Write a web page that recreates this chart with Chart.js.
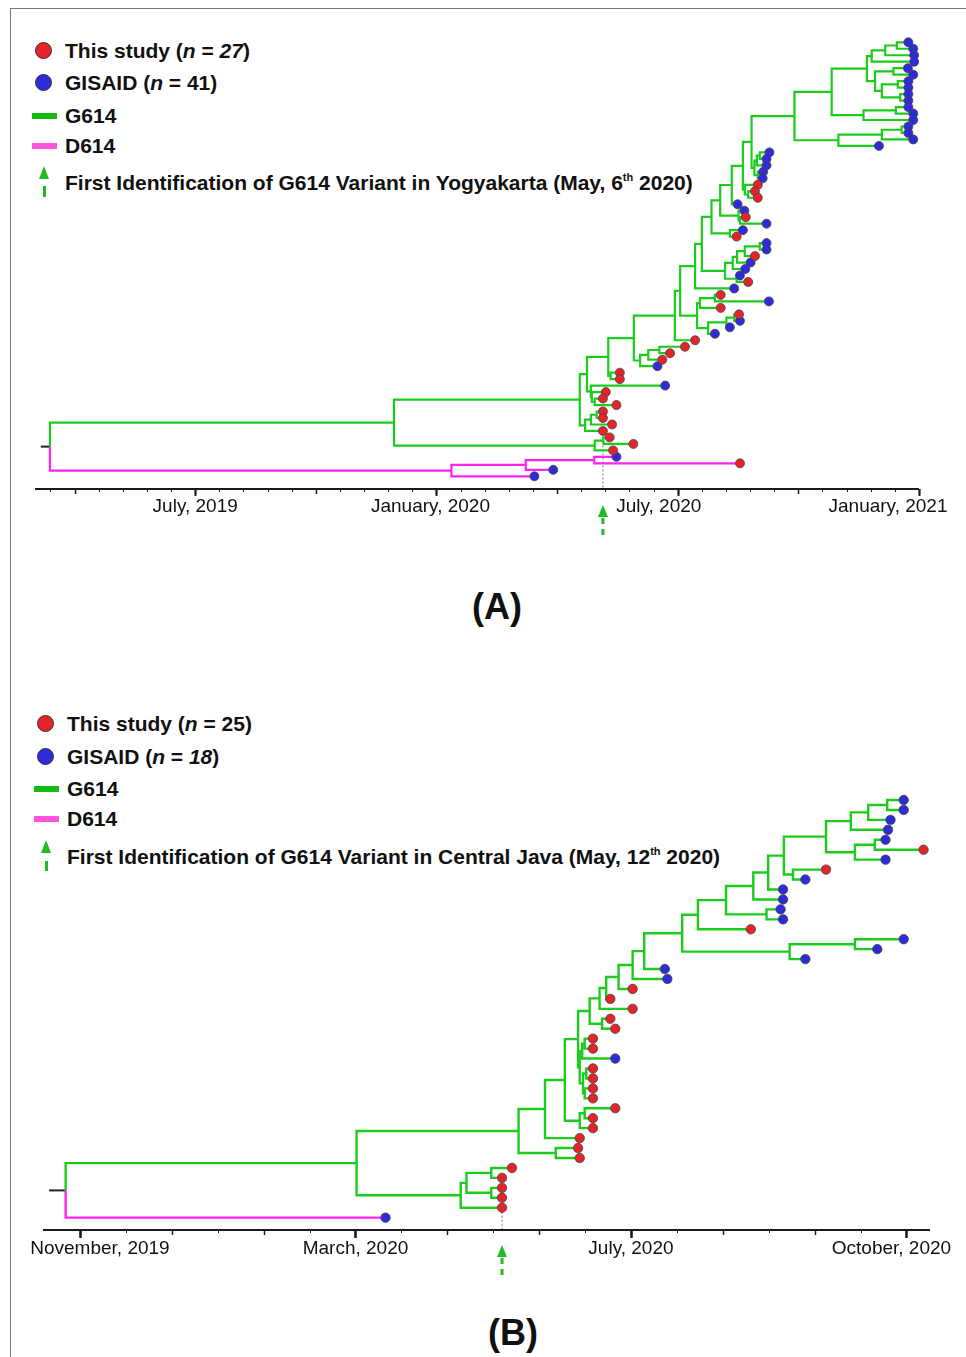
<!DOCTYPE html>
<html>
<head>
<meta charset="utf-8">
<title>G614 / D614 time-scaled trees</title>
<script src="https://cdn.jsdelivr.net/npm/chart.js@4.4.1/dist/chart.umd.min.js"></script>
<style>
  html, body { margin: 0; padding: 0; background: #fff; }
  body { position: relative; width: 966px; height: 1357px; overflow: hidden;
         font-family: "Liberation Sans", Arial, Helvetica, sans-serif; color: #111; }
  .frame { position: absolute; left: 10px; top: 8px; width: 970px; height: 1360px;
           border-left: 1px solid #777; border-top: 1px solid #777; }
  canvas { position: absolute; left: 0; }
  .key { position: absolute; font-weight: bold; font-size: 21px; line-height: 24px; white-space: nowrap; }
  .dot { position: absolute; width: 17px; height: 17px; border-radius: 50%; border: 1px solid #333; box-sizing: border-box; }
  .bar { position: absolute; width: 25px; height: 6px; }
  .tri { position: absolute; width: 0; height: 0; border-left: 5px solid transparent;
         border-right: 5px solid transparent; border-bottom: 13px solid #22bb22; }
  .stem { position: absolute; width: 3px; background: #22bb22; }
  .panel { position: absolute; font-weight: bold; font-size: 36px; line-height: 40px; }
  sup { font-size: 11px; vertical-align: 9px; line-height: 0; }
</style>
</head>
<body>
<div class="frame"></div>

<!-- legend, panel A -->
<div class="dot" style="left:35px;top:42px;background:#e5232b"></div>
<div class="key" style="left:65px;top:39px">This study (<i>n</i> = <i>27</i>)</div>
<div class="dot" style="left:35px;top:74px;background:#2f2bd8"></div>
<div class="key" style="left:65px;top:71px">GISAID (<i>n</i> = 41)</div>
<div class="bar" style="left:32px;top:113px;background:#11bb11"></div>
<div class="key" style="left:65px;top:104px">G614</div>
<div class="bar" style="left:32px;top:143px;background:#ff55dd"></div>
<div class="key" style="left:65px;top:134px">D614</div>
<div class="tri" style="left:39px;top:166px"></div>
<div class="stem" style="left:42.5px;top:186px;height:11px"></div>
<div class="key" style="left:65px;top:171px">First Identification of G614 Variant in Yogyakarta (May, 6<sup>th</sup> 2020)</div>

<!-- legend, panel B -->
<div class="dot" style="left:37px;top:715px;background:#e5232b"></div>
<div class="key" style="left:67px;top:712px">This study (<i>n</i> = 25)</div>
<div class="dot" style="left:37px;top:748px;background:#2f2bd8"></div>
<div class="key" style="left:67px;top:745px">GISAID (<i>n</i> = <i>18</i>)</div>
<div class="bar" style="left:34px;top:786px;background:#11bb11"></div>
<div class="key" style="left:67px;top:777px">G614</div>
<div class="bar" style="left:34px;top:816px;background:#ff55dd"></div>
<div class="key" style="left:67px;top:807px">D614</div>
<div class="tri" style="left:41px;top:840px"></div>
<div class="stem" style="left:44.5px;top:861px;height:10px"></div>
<div class="key" style="left:67px;top:845px">First Identification of G614 Variant in Central Java (May, 12<sup>th</sup> 2020)</div>

<canvas id="treeA" width="966" height="560" style="top:0px"></canvas>
<canvas id="treeB" width="966" height="640" style="top:660px"></canvas>

<div class="panel" style="left:472px;top:587px">(A)</div>
<div class="panel" style="left:488px;top:1313px">(B)</div>

<script>
// ---- Panel A: Yogyakarta. Tips listed top -> bottom, dates in decimal years ----
const tipDateA = [
  2020.978, 2020.988, 2020.990, 2020.990, 2020.977, 2020.988, 2020.978, 2020.978,
  2020.978, 2020.978, 2020.978, 2020.988, 2020.988, 2020.978, 2020.978, 2020.988,
  2020.917, 2020.690, 2020.684, 2020.684, 2020.677, 2020.676, 2020.666, 2020.660,
  2020.666, 2020.624, 2020.638, 2020.641, 2020.684, 2020.635, 2020.622, 2020.684,
  2020.684, 2020.660, 2020.651, 2020.640, 2020.629, 2020.646, 2020.617, 2020.589,
  2020.689, 2020.589, 2020.627, 2020.629, 2020.608, 2020.577, 2020.536, 2020.515,
  2020.484, 2020.468, 2020.458, 2020.380, 2020.380, 2020.474, 2020.351, 2020.345,
  2020.373, 2020.345, 2020.345, 2020.364, 2020.345, 2020.359, 2020.408, 2020.366,
  2020.373, 2020.629, 2020.242, 2020.203
];
// S = this study, G = GISAID
const tipSrcA = [
  'G','G','G','G','G','G','G','G','G','G','G','G','G','G','G','G',
  'G','G','G','G','G','G','S','S','S','G','G','S','G','G','S','G',
  'G','S','G','G','G','S','G','S','G','S','S','G','G','G','S','S',
  'S','S','G','S','S','G','S','S','S','S','S','S','S','S','S','S',
  'G','S','G','G'
];
// internal nodes: [id, date, child, child]  (numbers = tip index)
const nodesA = [
  ['T1', 2020.954, 0, 1], ['T2', 2020.930, 'T1', 2], ['T3', 2020.902, 'T2', 3],
  ['T4', 2020.947, 4, 5], ['T12', 2020.956, 6, 7], ['T13', 2020.961, 8, 9],
  ['T11', 2020.923, 'T12', 'T13'], ['T10', 2020.909, 'T4', 'T11'], ['T9', 2020.892, 'T3', 'T10'],
  ['T14', 2020.952, 10, 11], ['T15', 2020.885, 'T14', 12], ['T16', 2020.819, 'T9', 'T15'],
  ['T17', 2020.964, 13, 14], ['T18', 2020.923, 'T17', 15], ['T19', 2020.833, 'T18', 16],
  ['T20', 2020.742, 'T16', 'T19'],
  ['M1', 2020.670, 17, 18], ['M2', 2020.664, 'M1', 19], ['M3', 2020.666, 20, 21],
  ['M4', 2020.659, 'M2', 'M3'], ['T21', 2020.653, 'T20', 'M4'],
  ['M6', 2020.646, 23, 24], ['M5', 2020.639, 22, 'M6'], ['B2', 2020.635, 'T21', 'M5'],
  ['B3', 2020.612, 'B2', 25], ['M10', 2020.629, 27, 28], ['M9', 2020.626, 26, 'M10'],
  ['B4', 2020.588, 'B3', 'M9'], ['M11', 2020.608, 29, 30], ['B5', 2020.570, 'B4', 'M11'],
  ['M14', 2020.670, 31, 32], ['M15', 2020.639, 'M14', 33], ['M16', 2020.623, 'M15', 34],
  ['M17', 2020.614, 'M16', 35], ['M18', 2020.622, 36, 37], ['M19', 2020.598, 'M17', 'M18'],
  ['B6', 2020.550, 'B5', 'M19'], ['B7', 2020.536, 'B6', 38],
  ['M23', 2020.577, 39, 40], ['M22', 2020.546, 'M23', 41], ['M24', 2020.617, 42, 43],
  ['M25', 2020.601, 'M24', 44], ['M26', 2020.563, 'M25', 45], ['M27', 2020.540, 'M22', 'M26'],
  ['B8', 2020.505, 'B7', 'M27'], ['N675', 2020.494, 'B8', 46],
  ['N659', 2020.462, 47, 48], ['N648', 2020.439, 'N659', 49], ['N640', 2020.422, 'N648', 50],
  ['N636', 2020.409, 'N675', 'N640'], ['N610', 2020.361, 51, 52], ['N608', 2020.356, 'N636', 'N610'],
  ['Nd', 2020.328, 55, 56], ['Nc', 2020.322, 54, 'Nd'], ['Ne', 2020.320, 53, 'Nc'],
  ['N590', 2020.312, 'N608', 'Ne'],
  ['D', 2020.332, 57, 58], ['C', 2020.320, 'D', 59], ['B', 2020.308, 'C', 60],
  ['N579', 2020.297, 'N590', 'B'],
  ['N603', 2020.346, 61, 62], ['N594', 2020.328, 'N603', 63],
  ['N394', 2019.912, 'N579', 'N594'],
  ['P594', 2020.327, 64, 65], ['P525', 2020.185, 'P594', 66], ['P451', 2020.031, 'P525', 67],
  ['root', 2019.199, 'N394', 'P451']
];
const d614CladeA = 'P451';
const rootStubA = 2019.180;
const firstIdA = 2020.345;          // May 6th 2020
const tickValuesA = [2019.5, 2020.0, 2020.5, 2021.0];
const tickLabelsA = ['July, 2019', 'January, 2020', 'July, 2020', 'January, 2021'];

// ---- Panel B: Central Java ----
const tipDateB = [
  2020.830, 2020.830, 2020.814, 2020.811, 2020.808, 2020.854, 2020.808, 2020.736,
  2020.711, 2020.684, 2020.684, 2020.681, 2020.684, 2020.645, 2020.830, 2020.798,
  2020.711, 2020.541, 2020.544, 2020.502, 2020.475, 2020.502, 2020.475, 2020.481,
  2020.454, 2020.454, 2020.481, 2020.454, 2020.454, 2020.454, 2020.454, 2020.481,
  2020.454, 2020.454, 2020.438, 2020.436, 2020.438, 2020.356, 2020.344, 2020.344,
  2020.344, 2020.344, 2020.203
];
const tipSrcB = [
  'G','G','G','G','G','S','G','S','G','G','G','G','G','S','G','G',
  'G','G','G','S','S','S','S','S','S','S','G','S','S','S','S','S',
  'S','S','S','S','S','S','S','S','S','S','G'
];
const nodesB = [
  ['X1', 2020.810, 0, 1], ['X2', 2020.787, 'X1', 2], ['X3', 2020.766, 'X2', 3],
  ['X4', 2020.795, 4, 5], ['X5', 2020.771, 'X4', 6], ['X6', 2020.736, 'X3', 'X5'],
  ['X7', 2020.696, 7, 8], ['X8', 2020.685, 'X6', 'X7'], ['X9', 2020.666, 'X8', 9],
  ['X10', 2020.648, 'X9', 10], ['X11', 2020.664, 11, 12], ['X12', 2020.615, 'X10', 'X11'],
  ['X13', 2020.581, 'X12', 13], ['X14', 2020.771, 14, 15], ['X15', 2020.692, 'X14', 16],
  ['X16', 2020.562, 'X13', 'X15'], ['X17', 2020.516, 'X16', 17], ['X18', 2020.502, 'X17', 18],
  ['X19', 2020.485, 'X18', 19], ['X20', 2020.470, 'X19', 20], ['X21', 2020.462, 'X20', 21],
  ['X23', 2020.465, 22, 23], ['X22', 2020.450, 'X21', 'X23'],
  ['Y1', 2020.444, 24, 25], ['Y6', 2020.441, 'Y1', 26], ['Y2', 2020.446, 27, 28],
  ['Y3', 2020.444, 29, 30], ['Y4', 2020.442, 'Y2', 'Y3'], ['W', 2020.438, 'Y6', 'Y4'],
  ['X24', 2020.436, 'X22', 'W'], ['Z4', 2020.444, 31, 32], ['Z3', 2020.438, 'Z4', 33],
  ['Z1', 2020.420, 'X24', 'Z3'], ['X', 2020.396, 'Z1', 34], ['U', 2020.409, 35, 36],
  ['V', 2020.364, 'X', 'U'], ['L1', 2020.331, 37, 38], ['L2', 2020.331, 39, 40],
  ['L3', 2020.301, 'L1', 'L2'], ['L4', 2020.294, 'L3', 41], ['K', 2020.168, 'V', 'L4'],
  ['root', 2019.816, 'K', 42]
];
const d614CladeB = 42;
const rootStubB = 2019.796;
const firstIdB = 2020.344;          // marked May 12th 2020
const tickValuesB = [2019.8333, 2020.1667, 2020.5, 2020.8333];
const tickLabelsB = ['November, 2019', 'March, 2020', 'July, 2020', 'October, 2020'];

const RED = '#e5232b', BLUE = '#2f2bd8', GREEN = '#1ccc1c', PINK = '#ff22f0', ARROW = '#22bb22';

// place tips on rows and internal nodes midway between their children
function buildTree(tipDate, tipSrc, nodes, d614Id) {
  const byId = {}, pos = {};
  nodes.forEach(function (n) { byId[n[0]] = n; });
  tipDate.forEach(function (d, i) { pos[i] = { x: d, y: i }; });
  function place(id) {
    if (pos[id]) return pos[id];
    const n = byId[id];
    const a = place(n[2]), b = place(n[3]);
    pos[id] = { x: n[1], y: (a.y + b.y) / 2 };
    return pos[id];
  }
  const rootId = nodes[nodes.length - 1][0];
  place(rootId);
  const g614 = [], d614 = [];
  (function walk(id, inD) {
    const n = byId[id];
    if (!n) return;
    const p = pos[id];
    [n[2], n[3]].forEach(function (c) {
      const isD = inD || c === d614Id;
      const q = pos[c];
      (isD ? d614 : g614).push({ x: p.x, y: p.y }, { x: p.x, y: q.y }, { x: q.x, y: q.y }, { x: q.x, y: NaN });
      walk(c, isD);
    });
  })(rootId, false);
  const tips = tipDate.map(function (d, i) { return { x: d, y: i }; });
  return {
    root: pos[rootId], g614: g614, d614: d614,
    study: tips.filter(function (_, i) { return tipSrc[i] === 'S'; }),
    gisaid: tips.filter(function (_, i) { return tipSrc[i] === 'G'; })
  };
}

// axis line, graded tick marks, month labels and the "first identification" arrow
const timeAxis = {
  id: 'timeAxis',
  afterDraw: function (chart, args, o) {
    const ctx = chart.ctx, a = chart.chartArea, x = chart.scales.x;
    ctx.save();
    ctx.strokeStyle = '#1a1a1a';
    ctx.lineWidth = 2;
    ctx.beginPath();
    ctx.moveTo(a.left, a.bottom);
    ctx.lineTo(a.right, a.bottom);
    ctx.stroke();
    o.levels.forEach(function (lv) {
      const step = lv[0];
      ctx.lineWidth = lv[2];
      for (let k = Math.ceil((x.min - o.origin) / step - 1e-6); o.origin + k * step <= x.max + 1e-6; k++) {
        const px = Math.round(x.getPixelForValue(o.origin + k * step)) + 0.5;
        ctx.beginPath();
        ctx.moveTo(px, a.bottom);
        ctx.lineTo(px, a.bottom + lv[1]);
        ctx.stroke();
      }
    });
    ctx.fillStyle = '#111';
    ctx.font = '19px "Liberation Sans", Arial, sans-serif';
    ctx.textAlign = 'center';
    ctx.textBaseline = 'middle';
    o.values.forEach(function (v, i) {
      ctx.fillText(o.labels[i], x.getPixelForValue(v) + o.shifts[i], a.bottom + o.labelGap);
    });
    // arrow under the axis
    const ax = x.getPixelForValue(o.idDate);
    const top = a.bottom + o.arrow[0];
    ctx.fillStyle = ARROW;
    ctx.beginPath();
    ctx.moveTo(ax, top);
    ctx.lineTo(ax - 5, top + 12);
    ctx.lineTo(ax + 5, top + 12);
    ctx.closePath();
    ctx.fill();
    ctx.strokeStyle = ARROW;
    ctx.lineWidth = 3;
    ctx.setLineDash([6, 5]);
    ctx.beginPath();
    ctx.moveTo(ax, top + 13);
    ctx.lineTo(ax, top + o.arrow[1]);
    ctx.stroke();
    ctx.restore();
  }
};

function drawTree(canvasId, tree, cfg) {
  return new Chart(document.getElementById(canvasId), {
    type: 'scatter',
    data: {
      datasets: [
        { label: 'This study', data: tree.study, pointRadius: cfg.dot, pointBackgroundColor: RED,
          pointBorderColor: '#444', pointBorderWidth: 0.8, order: 0 },
        { label: 'GISAID', data: tree.gisaid, pointRadius: cfg.dot, pointBackgroundColor: BLUE,
          pointBorderColor: '#444', pointBorderWidth: 0.8, order: 0 },
        { label: 'G614', data: tree.g614, showLine: true, pointRadius: 0, borderColor: GREEN,
          borderWidth: cfg.line, spanGaps: false, order: 2 },
        { label: 'D614', data: tree.d614, showLine: true, pointRadius: 0, borderColor: PINK,
          borderWidth: cfg.line, spanGaps: false, order: 2 },
        { label: 'root', data: [{ x: cfg.stub, y: tree.root.y }, { x: tree.root.x, y: tree.root.y }],
          showLine: true, pointRadius: 0, borderColor: '#222', borderWidth: 2, order: 2 },
        { label: 'first identification', data: [{ x: cfg.idDate, y: cfg.idRow }, { x: cfg.idDate, y: cfg.yMax }],
          showLine: true, pointRadius: 0, borderColor: '#777', borderWidth: 1, borderDash: [2, 2], order: 3 }
      ]
    },
    options: {
      responsive: false,
      animation: false,
      events: [],
      layout: { padding: cfg.pad },
      plugins: {
        legend: { display: false },
        tooltip: { enabled: false },
        timeAxis: cfg.axis
      },
      scales: {
        x: { type: 'linear', min: cfg.xMin, max: cfg.xMax, display: false },
        y: { type: 'linear', min: cfg.yMin, max: cfg.yMax, reverse: true, display: false }
      }
    },
    plugins: [timeAxis]
  });
}

drawTree('treeA', buildTree(tipDateA, tipSrcA, nodesA, d614CladeA), {
  pad: { left: 35, right: 47, top: 20, bottom: 71 },
  xMin: 2019.168, xMax: 2021.0, yMin: -3.44, yMax: 68.96,
  dot: 4.5, line: 2.2, stub: rootStubA, idDate: firstIdA, idRow: 61,
  axis: {
    origin: tickValuesA[0],
    levels: [[0.05, 3, 1], [0.25, 5, 1.5], [0.5, 7, 2]],
    values: tickValuesA, labels: tickLabelsA, shifts: [0, -6, -19, -31],
    labelGap: 18, idDate: firstIdA, arrow: [16, 31]
  }
});

drawTree('treeB', buildTree(tipDateB, tipSrcB, nodesB, d614CladeB), {
  pad: { left: 43, right: 36, top: 120, bottom: 70 },
  xMin: 2019.7886, xMax: 2020.8618, yMin: -2.01, yMax: 43.24,
  dot: 4.7, line: 2.4, stub: rootStubB, idDate: firstIdB, idRow: 41,
  axis: {
    origin: tickValuesB[0],
    levels: [[1 / 18, 3, 1], [1 / 9, 5, 1.5], [1 / 3, 8, 2.5]],
    values: tickValuesB, labels: tickLabelsB, shifts: [20, 0, 0, -15],
    labelGap: 19, idDate: firstIdB, arrow: [15, 34]
  }
});
</script>
</body>
</html>
